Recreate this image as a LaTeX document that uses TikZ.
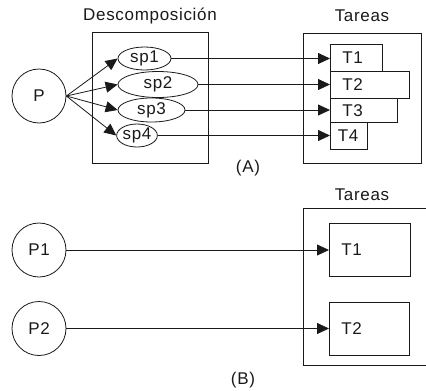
\documentclass[tikz,border=0pt]{standalone}
\usepackage{fontspec}
\setmainfont{Liberation Sans}[LetterSpace=4]
\usetikzlibrary{arrows.meta,shapes.geometric}
\definecolor{ink}{HTML}{1A1A1A}
\tikzset{
  x=1pt, y=-1pt,
  every node/.style={font=\fontsize{17}{20}\selectfont, text=ink},
  proc/.style={draw=ink, line width=0.8pt, circle, minimum size=54pt, inner sep=0pt},
  sub/.style={draw=ink, line width=0.8pt, ellipse, inner sep=0pt},
  frame/.style={draw=ink, line width=0.8pt},
  task/.style={draw=ink, line width=0.8pt, rectangle, anchor=north west,
               inner xsep=12pt, inner ysep=0pt, align=left},
  arr/.style={draw=ink, line width=0.8pt, -{Triangle[length=12pt,width=11pt]}},
  caption/.style={inner sep=0pt}
}
\begin{document}
\begin{tikzpicture}
\useasboundingbox (0,0) rectangle (426,391);

% ---------- (A) decomposition ----------
\node[caption] (dtitle) at (150,16) {Descomposición};
\node[caption] (ttitleA) at (362,16) {Tareas};
\draw[frame] (92,32) rectangle (208.5,163);
\draw[frame] (303,33) rectangle (421,163);

\node[proc] (P) at (39,96) {P};

\node[sub, minimum width=53pt, minimum height=23pt] (sp1) at (144.5,58.5) {sp1};
\node[sub, minimum width=80pt, minimum height=26pt] (sp2) at (158,84.5) {sp2};
\node[sub, minimum width=67pt, minimum height=24pt] (sp3) at (151.5,110) {sp3};
\node[sub, minimum width=40pt, minimum height=23pt] (sp4) at (137,135.5) {sp4};

\node[task, text width=28pt, minimum height=27pt] (T1) at (330,44) {T1};
\node[task, text width=55pt, minimum height=27pt] (T2) at (330,71) {T2};
\node[task, text width=43pt, minimum height=24pt] (T3) at (330,98) {T3};
\node[task, text width=22pt, minimum height=27pt, inner xsep=7.5pt] (T4) at (330,122) {T4};

\foreach \s in {sp1,sp2,sp3,sp4}
  \draw[arr] (P.east) -- (\s.west);

\draw[arr] (sp1.east) -- (sp1.east -| T1.west);
\draw[arr] (sp2.east) -- (sp2.east -| T2.west);
\draw[arr] (sp3.east) -- (sp3.east -| T3.west);
\draw[arr] (sp4.east) -- (sp4.east -| T4.west);

\node[caption] (capA) at (248,168) {(A)};

% ---------- (B) one task per process ----------
\node[caption] (ttitleB) at (362,195) {Tareas};
\draw[frame] (440,208) -- (303,208) -- (303,365) -- (440,365);

\node[proc] (P1) at (39,250) {P1};
\node[proc] (P2) at (39,328.5) {P2};

\node[task, text width=57pt, minimum height=53pt] (U1) at (329,223) {T1};
\node[task, text width=56pt, minimum height=53pt] (U2) at (329,302) {T2};

\draw[arr] (P1.east) -- (P1.east -| U1.west);
\draw[arr] (P2.east) -- (P2.east -| U2.west);

\node[caption] (capB) at (243,380) {(B)};
\end{tikzpicture}
\end{document}
